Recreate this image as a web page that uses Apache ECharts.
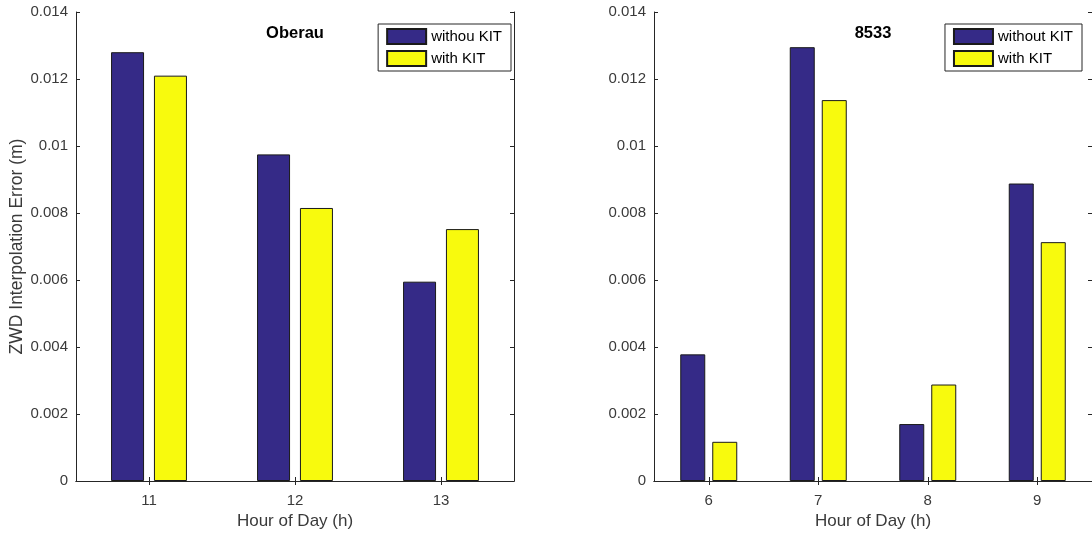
<!DOCTYPE html>
<html>
<head>
<meta charset="utf-8">
<script src="https://cdn.jsdelivr.net/npm/echarts@6/dist/echarts.min.js"></script>
<style>
  html, body { margin: 0; padding: 0; background: #fff; }
  #chart { width: 1092px; height: 535px; }
</style>
</head>
<body>
<div id="chart"></div>
<script>
// Oberau station: hours and ZWD interpolation errors (m)
const hoursOberau = ['11', '12', '13'];
const oberauWithout = [0.0128, 0.00975, 0.00595];
const oberauWith = [0.0121, 0.00815, 0.00752];

// Station 8533
const hours8533 = ['6', '7', '8', '9'];
const s8533Without = [0.00378, 0.01295, 0.00170, 0.00888];
const s8533With = [0.00117, 0.01137, 0.00288, 0.00713];

// y-axis ticks shared by both panels
const yTicks = { min: 0, max: 0.014, step: 0.002 };

const FONT = "'Liberation Sans', Arial, Helvetica, sans-serif";
const INK = '#262626';
const TEXT = '#3a3a3a';
const BLUE = '#352a87';
const YELLOW = '#f8fa0d';

const fmtY = v => (v === 0 ? '0' : String(parseFloat(v.toFixed(4))));

function bottomAxis(grid, cats) {
  return {
    gridIndex: grid, type: 'category', data: cats, position: 'bottom',
    axisLine: { show: true, lineStyle: { color: INK, width: 1 } },
    axisTick: { show: true, inside: true, alignWithLabel: true, length: 4, lineStyle: { color: INK } },
    axisLabel: { color: TEXT, fontFamily: FONT, fontSize: 15, margin: 12 },
    splitLine: { show: false },
    name: 'Hour of Day (h)',
    nameLocation: 'middle', nameGap: 32,
    nameTextStyle: { color: TEXT, fontFamily: FONT, fontSize: 17 }
  };
}
function topAxis(grid, cats) {
  return {
    gridIndex: grid, type: 'category', data: cats, position: 'top',
    axisLine: { show: true, lineStyle: { color: INK, width: 1 } },
    axisTick: { show: true, inside: true, alignWithLabel: true, length: 4, lineStyle: { color: INK } },
    axisLabel: { show: false }, splitLine: { show: false }
  };
}
function leftAxis(grid, name) {
  return {
    gridIndex: grid, type: 'value', position: 'left',
    min: yTicks.min, max: yTicks.max, interval: yTicks.step,
    axisLine: { show: true, lineStyle: { color: INK, width: 1 } },
    axisTick: { show: true, inside: true, length: 4, lineStyle: { color: INK } },
    axisLabel: { color: TEXT, fontFamily: FONT, fontSize: 15, margin: 8, formatter: fmtY },
    splitLine: { show: false },
    name: name, nameLocation: 'middle', nameGap: 48,
    nameTextStyle: { color: TEXT, fontFamily: FONT, fontSize: 17.5 }
  };
}
function rightAxis(grid) {
  return {
    gridIndex: grid, type: 'value', position: 'right',
    min: yTicks.min, max: yTicks.max, interval: yTicks.step,
    axisLine: { show: true, lineStyle: { color: INK, width: 1 } },
    axisTick: { show: true, inside: true, length: 4, lineStyle: { color: INK } },
    axisLabel: { show: false }, splitLine: { show: false }
  };
}
function barSeries(name, data, xi, yi, color, width, gap) {
  return {
    type: 'bar', name: name, data: data, xAxisIndex: xi, yAxisIndex: yi,
    barWidth: width, barGap: gap,
    itemStyle: { color: color, borderColor: '#1a1a1a', borderWidth: 1 },
    emphasis: { disabled: true }, animation: false
  };
}
function legendBox(names, right) {
  return {
    data: names, orient: 'vertical', top: 24, right: right,
    itemWidth: 39, itemHeight: 15, itemGap: 5,
    padding: [4, 9, 4, 8],
    borderColor: INK, borderWidth: 1, backgroundColor: '#fff',
    icon: 'rect', selectedMode: false,
    textStyle: { color: '#000', fontFamily: FONT, fontSize: 15 }
  };
}

const chart = echarts.init(document.getElementById('chart'), null, { renderer: 'canvas' });
chart.setOption({
  animation: false,
  backgroundColor: '#fff',
  title: [
    { text: 'Oberau', left: 295, top: 25, textAlign: 'center', padding: 0,
      textStyle: { fontFamily: FONT, fontSize: 16.5, fontWeight: 'bold', color: '#000' } },
    { text: '8533', left: 873, top: 25, textAlign: 'center', padding: 0,
      textStyle: { fontFamily: FONT, fontSize: 16.5, fontWeight: 'bold', color: '#000' } }
  ],
  legend: [
    legendBox(['withou KIT', 'with KIT'], 581),
    legendBox(['without KIT', 'with KIT'], 10)
  ],
  grid: [
    { left: 76, right: 578, top: 12, bottom: 52, containLabel: false },
    { left: 654, right: -1, top: 12, bottom: 52, containLabel: false }
  ],
  xAxis: [
    bottomAxis(0, hoursOberau), topAxis(0, hoursOberau),
    bottomAxis(1, hours8533), topAxis(1, hours8533)
  ],
  yAxis: [
    leftAxis(0, 'ZWD Interpolation Error (m)'), rightAxis(0),
    leftAxis(1, ''), rightAxis(1)
  ],
  series: [
    barSeries('withou KIT', oberauWithout, 0, 0, BLUE, 33, '30%'),
    barSeries('with KIT', oberauWith, 0, 0, YELLOW, 33, '30%'),
    barSeries('without KIT', s8533Without, 2, 2, BLUE, 25, '28%'),
    barSeries('with KIT', s8533With, 2, 2, YELLOW, 25, '28%')
  ]
});
</script>
</body>
</html>
